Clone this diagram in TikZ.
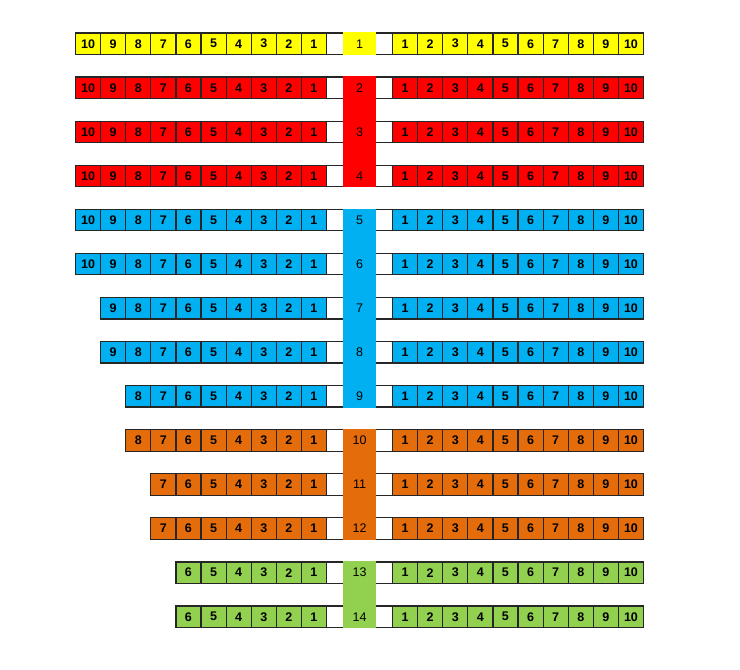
\documentclass[tikz,border=0pt]{standalone}
\usepackage{fontspec}
\setmainfont{Liberation Sans}
\usetikzlibrary{positioning}

\definecolor{rowyellow}{HTML}{FFFF00}
\definecolor{rowred}{HTML}{FF0000}
\definecolor{rowblue}{HTML}{00B0F0}
\definecolor{roworange}{HTML}{E46C0A}
\definecolor{rowgreen}{HTML}{92D050}
\definecolor{rowedge}{HTML}{262626}

\tikzset{
  cell/.style={draw=rowedge, line width=1.2pt, minimum width=25.1pt, minimum height=21.5pt,
    inner sep=0pt, outer sep=0pt, font=\fontsize{12.5}{14}\selectfont\bfseries},
  gapbox/.style={draw=rowedge, line width=1.2pt, minimum width=66pt, minimum height=21.5pt,
    inner sep=0pt, outer sep=0pt},
  seatnum/.style={font=\fontsize{12.5}{14}\selectfont}
}

\begin{document}
\begin{tikzpicture}[x=1pt,y=-1pt]
    \useasboundingbox (0,0) rectangle (740,670);

    % rows: number / seats on the left / colour
    \foreach \r/\n/\c in {1/10/rowyellow, 2/10/rowred, 3/10/rowred, 4/10/rowred,
                          5/10/rowblue, 6/10/rowblue, 7/9/rowblue, 8/9/rowblue, 9/8/rowblue,
                          10/8/roworange, 11/7/roworange, 12/7/roworange,
                          13/6/rowgreen, 14/6/rowgreen}{
        \node[gapbox, alias=L-\r-0, alias=R-\r-0] (gap-\r) at (359.5, {43.7+(\r-1)*44.08}) {};
        \foreach \i [remember=\i as \j (initially 0)] in {1,...,\n}
            \node[cell, fill=\c, left=0pt of L-\r-\j] (L-\r-\i) {\i};
        \foreach \i [remember=\i as \j (initially 0)] in {1,...,10}
            \node[cell, fill=\c, right=0pt of R-\r-\j] (R-\r-\i) {\i};
    }

    % aisle bands
    \foreach \a/\b/\c in {1/1/rowyellow, 2/4/rowred, 5/9/rowblue, 10/12/roworange, 13/14/rowgreen}
        \fill[\c] ([xshift=16.5pt, yshift=0.6pt]gap-\a.north west)
            rectangle ([xshift=-16.5pt, yshift=-0.6pt]gap-\b.south east);

    \foreach \r in {1,...,14}
        \node[seatnum] (num-\r) at (gap-\r) {\r};
\end{tikzpicture}
\end{document}
